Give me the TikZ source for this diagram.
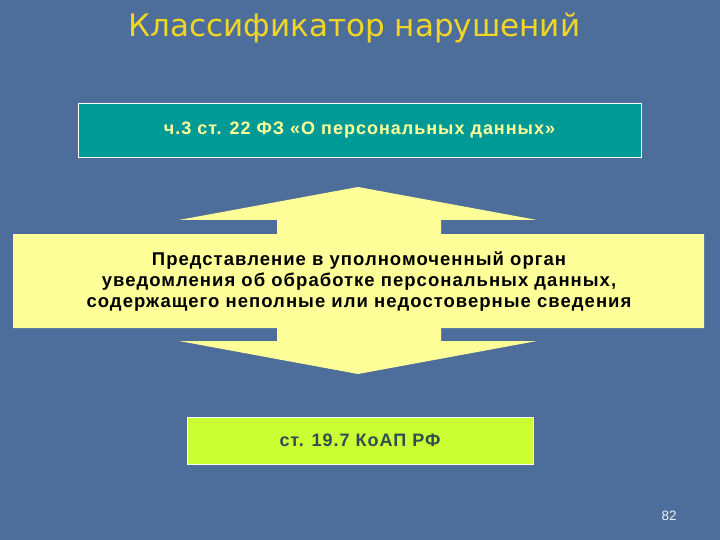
\documentclass[tikz,border=0pt]{standalone}
\usepackage{fontspec}
\setmainfont{Liberation Sans}
\newfontfamily\titlefont{DejaVu Sans}
\newfontfamily\spacedsans[LetterSpace=5.5]{Liberation Sans}
\definecolor{bgblue}{HTML}{4D6E9B}
\definecolor{titleyellow}{HTML}{F2D624}
\definecolor{teal}{HTML}{009A96}
\definecolor{paleyellow}{HTML}{FFFF99}
\definecolor{lime}{HTML}{CCFF33}
\definecolor{darkslate}{HTML}{2E4E52}
\tikzset{
  boxstyle/.style={draw=white, line width=1pt},
}
\begin{document}
\begin{tikzpicture}[x=1pt,y=-1pt]
\fill[bgblue] (0,0) rectangle (720,540);
\useasboundingbox (0,0) rectangle (720,540);
% title
\node[text=titleyellow, anchor=base, inner sep=0pt] (title) at (354.5,36.5) {\titlefont\fontsize{31}{36}\selectfont Классификатор нарушений};
% top box
\node[boxstyle, fill=teal, minimum width=563pt, minimum height=54pt, text=paleyellow,
  font=\spacedsans\bfseries\fontsize{18}{21}\selectfont] (law) at (359.5,130.5) {ч.3 ст. 22 ФЗ «О персональных данных»};
% double arrow
\fill[paleyellow] (358,187) -- (537,220) -- (441,220) -- (441,234) -- (704,234) -- (704,328)
  -- (441,328) -- (441,341) -- (537,341) -- (358,374) -- (179,341) -- (277,341) -- (277,328)
  -- (13,328) -- (13,234) -- (277,234) -- (277,220) -- (179,220) -- cycle;
\node[align=center, text=black, font=\spacedsans\bfseries\fontsize{18.5}{21}\selectfont] (mid) at (359,281.5)
  {Представление в уполномоченный орган\\уведомления об обработке персональных данных,\\содержащего неполные или недостоверные сведения};
% bottom box
\node[boxstyle, fill=lime, minimum width=346pt, minimum height=47pt, text=darkslate,
  font=\spacedsans\bfseries\fontsize{18}{21}\selectfont] (koap) at (360,440.5) {ст. 19.7 КоАП РФ};
% page number
\node[text=white!90!bgblue, font=\fontsize{13.5}{16}\selectfont] (pg) at (669,516) {82};
\end{tikzpicture}
\end{document}
